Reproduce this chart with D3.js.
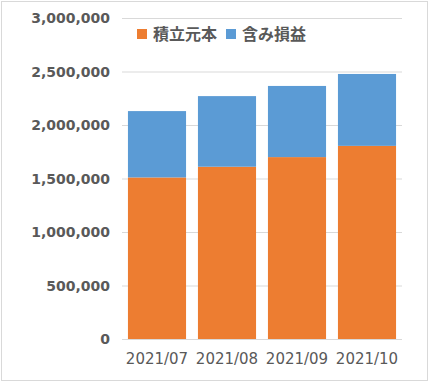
<!DOCTYPE html>
<html><head><meta charset="utf-8">
<script src="https://cdn.jsdelivr.net/npm/d3@7"></script>
<style>body{margin:0;background:#fff}svg{display:block}</style>
</head><body>
<script>
const categories = ["2021/07", "2021/08", "2021/09", "2021/10"];
const principal = [1510000, 1610000, 1700000, 1805000];
const gains = [620000, 660000, 665000, 672000];
const seriesNames = ["積立元本", "含み損益"];
const colors = ["#ED7D31", "#5B9BD5"];
const yTicks = [0, 500000, 1000000, 1500000, 2000000, 2500000, 3000000];

const W = 430, H = 382;
const svg = d3.select("body").append("svg").attr("width", W).attr("height", H);
svg.append("rect").attr("x", 1.5).attr("y", 1.5).attr("width", 426).attr("height", 379)
  .attr("fill", "#fff").attr("stroke", "#d9d9d9");

const x = d3.scaleBand().domain(categories).range([122, 402]).paddingInner(0.17).paddingOuter(0.085);
const y = d3.scaleLinear().domain([0, 3000000]).range([339, 18]);

const fmt = d3.format(",");
const yAxis = d3.axisLeft(y).tickValues(yTicks).tickSize(-(402 - 122)).tickFormat(fmt).tickPadding(12);
const gy = svg.append("g").attr("transform", "translate(122,0)").call(yAxis);
gy.select(".domain").remove();
gy.selectAll("line").attr("stroke", "#d9d9d9");
gy.selectAll("text").attr("fill", "#595959").attr("font-family", "DejaVu Sans")
  .attr("font-weight", "bold").attr("font-size", 14).attr("dy", "0.35em");

const rows = categories.map((c, i) => ({cat: c, p: principal[i], g: gains[i]}));
const stack = d3.stack().keys(["p", "g"])(rows);
svg.append("g").selectAll("g").data(stack).join("g")
  .attr("fill", (d, i) => colors[i])
  .selectAll("rect").data(d => d).join("rect")
  .attr("x", d => x(d.data.cat)).attr("width", x.bandwidth())
  .attr("y", d => y(d[1])).attr("height", d => y(d[0]) - y(d[1]));

// baseline
svg.append("line").attr("x1", 122).attr("x2", 402).attr("y1", y(0) + 0.5).attr("y2", y(0) + 0.5)
  .attr("stroke", "#d9d9d9");

const xAxis = d3.axisBottom(x).tickSize(0).tickPadding(14);
const gx = svg.append("g").attr("transform", `translate(0,${y(0)})`).call(xAxis);
gx.select(".domain").remove();
gx.selectAll("text").attr("fill", "#595959").attr("font-family", "DejaVu Sans")
  .attr("font-size", 15);

// legend
const legX = [137, 226];
const leg = svg.append("g");
seriesNames.forEach((n, i) => {
  leg.append("rect").attr("x", legX[i]).attr("y", 29).attr("width", 10).attr("height", 10).attr("fill", colors[i]);
  leg.append("text").attr("x", legX[i] + 16).attr("y", 34).attr("dy", "0.35em")
    .attr("font-family", "Noto Sans CJK JP").attr("font-weight", "bold").attr("font-size", 16)
    .attr("fill", "#595959").text(n);
});
</script>
</body></html>
